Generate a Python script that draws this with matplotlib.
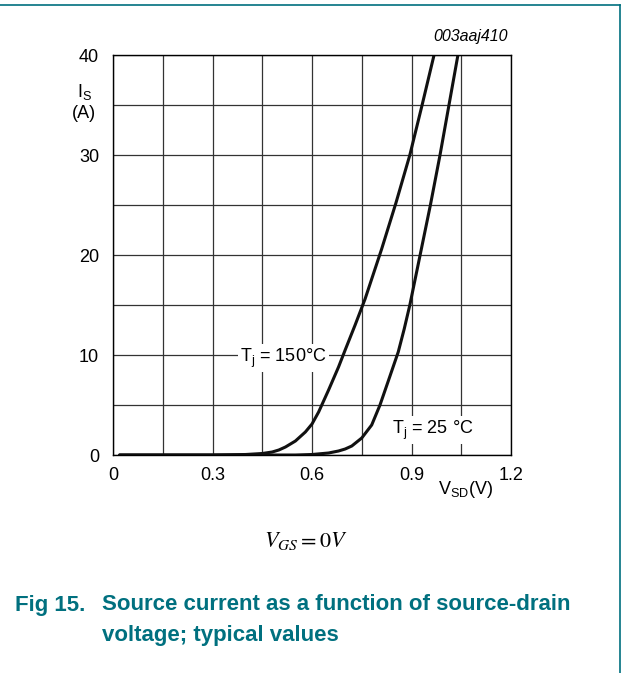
import matplotlib
matplotlib.use("Agg")
import matplotlib.pyplot as plt
from matplotlib.lines import Line2D
import numpy as np

plt.rcParams['font.family'] = ['Liberation Sans', 'DejaVu Sans']

# curve data (V_SD in V, I_S in A)
v_150 = [0.02, 0.3, 0.4, 0.45, 0.48, 0.5, 0.52, 0.55, 0.58, 0.6, 0.62, 0.65,
         0.68, 0.7, 0.73, 0.76, 0.785, 0.81, 0.853, 0.895, 0.932, 0.968]
i_150 = [0, 0, 0.05, 0.15, 0.3, 0.5, 0.8, 1.4, 2.3, 3.1, 4.3, 6.5,
         8.8, 10.5, 13, 15.6, 18.1, 20.6, 25.2, 30, 35, 40]
v_25 = [0.02, 0.55, 0.6, 0.65, 0.68, 0.7, 0.72, 0.75, 0.78, 0.805, 0.83, 0.86,
        0.878, 0.895, 0.926, 0.957, 0.986, 1.013, 1.04]
i_25 = [0, 0, 0.05, 0.2, 0.4, 0.6, 0.9, 1.7, 3.0, 5, 7.4, 10.3,
        12.6, 15, 20, 25, 30, 35, 40]

x_ticks = [0, 0.3, 0.6, 0.9, 1.2]
x_labels = ['0', '0.3', '0.6', '0.9', '1.2']
y_ticks = [0, 10, 20, 30, 40]

teal = '#00707f'

fig = plt.figure(figsize=(6.21, 6.73), dpi=100)
ax = fig.add_axes([113/621, 1-455/673, 398/621, 400/673])

ax.set_xlim(0, 1.2)
ax.set_ylim(0, 40)
ax.set_xticks(x_ticks)
ax.set_xticklabels(x_labels)
ax.set_yticks(y_ticks)
ax.set_xticks(np.arange(0, 1.21, 0.15), minor=True)
ax.set_yticks(np.arange(0, 41, 5), minor=True)
ax.grid(True, which='both', color='#333333', linewidth=0.9)
ax.tick_params(which='both', length=0, labelsize=13)
ax.tick_params(axis='x', pad=9)
ax.tick_params(axis='y', pad=10)
for s in ax.spines.values():
    s.set_linewidth(1.0)

ax.plot(v_150, i_150, color='#111111', linewidth=2.2, solid_capstyle='round')
ax.plot(v_25, i_25, color='#111111', linewidth=2.2, solid_capstyle='round')

ax.text(0.645, 9.7, r'T$_\mathregular{j}$ = 150°C', fontsize=13, ha='right', va='center',
        bbox=dict(facecolor='white', edgecolor='none', pad=1.5))
ax.text(0.84, 2.5, r'T$_\mathregular{j}$ = 25 °C', fontsize=13, ha='left', va='center',
        bbox=dict(facecolor='white', edgecolor='none', pad=1.5))

fig.text(508/621, 1-37/673, '003aaj410', fontsize=11.5, style='italic', ha='right', va='center')
fig.text(85/621, 1-92/673, 'I$_\mathregular{S}$', fontsize=13, ha='center', va='center')
fig.text(84/621, 1-113/673, '(A)', fontsize=13, ha='center', va='center')
fig.text(466/621, 1-489/673, 'V$_\mathregular{SD}$(V)', fontsize=13, ha='center', va='center')

fig.text(306/621, 1-541/673, r'$V_{GS} = 0V$', fontsize=16, ha='center', va='center',
         math_fontfamily='stix')

fig.text(15/621, 1-605/673, 'Fig 15.', fontsize=16, fontweight='bold', color=teal,
         ha='left', va='center')
fig.text(102/621, 1-605/673, 'Source current as a function of source-drain',
         fontsize=16, fontweight='bold', color=teal, ha='left', va='center')
fig.text(102/621, 1-635/673, 'voltage; typical values',
         fontsize=16, fontweight='bold', color=teal, ha='left', va='center')

fig.add_artist(Line2D([0, 619.5/621], [1-5/673, 1-5/673], color=teal, linewidth=1.2))
fig.add_artist(Line2D([619.5/621, 619.5/621], [0, 1-5/673], color=teal, linewidth=1.2))

fig.savefig('out.png', dpi=100)
